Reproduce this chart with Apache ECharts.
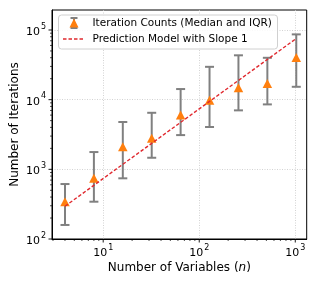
<!DOCTYPE html>
<html>
<head>
<meta charset="utf-8">
<script src="https://cdn.jsdelivr.net/npm/echarts@6/dist/echarts.min.js"></script>
<style>
html,body{margin:0;padding:0;background:#fff;}
#chart{width:317px;height:286px;}
</style>
</head>
<body>
<div id="chart"></div>
<script>
// ---- data ----
var nValues   = [4, 8, 16, 32, 64, 128, 256, 512, 1024];
var medians   = [343, 743, 2110, 2790, 6010, 9800, 14800, 17100, 40400];
var q1Values  = [159, 343, 743, 1466, 3100, 4050, 7020, 8550, 15300];
var q3Values  = [615, 1770, 4775, 6480, 14200, 29600, 43300, 39900, 86500];
var predN     = [4, 1024];
var predIters = [295, 75500];
var xMajorTicks = [10, 100, 1000];
var yMajorTicks = [100, 1000, 10000, 100000];
var seriesNames = ['Iteration Counts (Median and IQR)', 'Prediction Model with Slope 1'];
var xLabel = 'Number of Variables ';
var yLabel = 'Number of Iterations';

var X_MIN = 2.93, X_MAX = 1315, Y_MIN = 100, Y_MAX = 193600;
var FONT = 'DejaVu Sans';

function minorList(lo, hi) {
  var out = [];
  for (var d = 1; d <= 1e6; d *= 10) {
    for (var k = 2; k <= 9; k++) {
      var v = k * d;
      if (v > lo && v < hi) out.push(v);
    }
  }
  return out;
}

var tickData = [];
xMajorTicks.forEach(function (v) { tickData.push([v, Y_MIN, 0, 1]); });
minorList(X_MIN, X_MAX).forEach(function (v) { tickData.push([v, Y_MIN, 0, 0]); });
yMajorTicks.forEach(function (v) { tickData.push([X_MIN, v, 1, 1]); });
minorList(Y_MIN, Y_MAX).forEach(function (v) { tickData.push([X_MIN, v, 1, 0]); });

var errData = nValues.map(function (n, i) { return [n, q1Values[i], q3Values[i]]; });
var medData = nValues.map(function (n, i) { return [n, medians[i]]; });
var predData = predN.map(function (n, i) { return [n, predIters[i]]; });

function powLabel(v) {
  var e = Math.round(Math.log(v) / Math.LN10);
  return '{b|10}{s|' + e + '}';
}
var richLabel = {
  b: { fontFamily: FONT, fontSize: 11, color: '#000', verticalAlign: 'bottom', lineHeight: 15 },
  s: { fontFamily: FONT, fontSize: 8, color: '#000', verticalAlign: 'top', lineHeight: 15, padding: [0, 0, 0, 1] }
};

var chart = echarts.init(document.getElementById('chart'), null, { renderer: 'canvas' });
var option = {
  animation: false,
  backgroundColor: '#fff',
  grid: {
    left: 52, right: 10.3, top: 10, bottom: 47,
    show: true, borderColor: '#000', borderWidth: 1, backgroundColor: 'transparent',
    containLabel: false, outerBoundsMode: 'none'
  },
  xAxis: {
    type: 'log', logBase: 10, min: X_MIN, max: X_MAX,
    name: xLabel + '({i|n})',
    nameLocation: 'middle', nameGap: 23, nameMoveOverlap: false,
    nameTextStyle: {
      fontFamily: FONT, fontSize: 12, color: '#000',
      rich: { i: { fontFamily: FONT, fontSize: 12, fontStyle: 'italic', color: '#000' } }
    },
    axisLine: { show: true, lineStyle: { color: '#000', width: 1 } },
    axisTick: { show: false },
    axisLabel: { formatter: powLabel, rich: richLabel, margin: 5, showMinLabel: false, showMaxLabel: false },
    splitLine: { show: true, showMinLine: false, showMaxLine: false, lineStyle: { color: '#c8c8c8', type: [1, 1.5], width: 0.8 } },
    minorTick: { show: false }
  },
  yAxis: {
    type: 'log', logBase: 10, min: Y_MIN, max: Y_MAX,
    name: yLabel,
    nameLocation: 'middle', nameGap: 31, nameMoveOverlap: false,
    nameTextStyle: { fontFamily: FONT, fontSize: 12, color: '#000' },
    axisLine: { show: true, lineStyle: { color: '#000', width: 1 } },
    axisTick: { show: false },
    axisLabel: { formatter: powLabel, rich: richLabel, margin: 6, showMinLabel: true, showMaxLabel: false },
    splitLine: { show: true, showMinLine: false, showMaxLine: false, lineStyle: { color: '#c8c8c8', type: [1, 1.5], width: 0.8 } }
  },
  series: [
    {
      type: 'custom', name: 'ticks', silent: true, z: 5, clip: false,
      data: tickData,
      renderItem: function (params, api) {
        var p = api.coord([api.value(0), api.value(1)]);
        var len = api.value(3) ? 3.5 : 2;
        var shape = api.value(2) === 0
          ? { x1: p[0], y1: p[1], x2: p[0], y2: p[1] + len }
          : { x1: p[0], y1: p[1], x2: p[0] - len, y2: p[1] };
        return { type: 'line', shape: shape, style: { stroke: '#000', lineWidth: api.value(3) ? 0.9 : 0.7 } };
      }
    },
    {
      type: 'custom', name: 'iqr', silent: true, z: 3,
      data: errData,
      renderItem: function (params, api) {
        var lo = api.coord([api.value(0), api.value(1)]);
        var hi = api.coord([api.value(0), api.value(2)]);
        var hw = 4.5;
        var st = { stroke: '#808080', lineWidth: 2 };
        return {
          type: 'group',
          children: [
            { type: 'line', shape: { x1: lo[0], y1: lo[1], x2: hi[0], y2: hi[1] }, style: st },
            { type: 'line', shape: { x1: lo[0] - hw, y1: lo[1], x2: lo[0] + hw, y2: lo[1] }, style: st },
            { type: 'line', shape: { x1: hi[0] - hw, y1: hi[1], x2: hi[0] + hw, y2: hi[1] }, style: st }
          ]
        };
      }
    },
    {
      type: 'scatter', name: seriesNames[0], z: 4,
      data: medData, symbol: 'triangle', symbolSize: [9.5, 9],
      itemStyle: { color: '#ff7f0e', opacity: 1 }
    },
    {
      type: 'line', name: seriesNames[1], z: 6,
      data: predData, symbol: 'none',
      lineStyle: { color: '#e0282e', width: 1.4, type: [3.5, 2] }
    }
  ],
  graphic: [
    {
      type: 'rect', z: 100,
      shape: { x: 58.5, y: 15, width: 219, height: 34, r: 3 },
      style: { fill: 'rgba(255,255,255,0.85)', stroke: '#d0d0d0', lineWidth: 1 }
    },
    { type: 'line', z: 101, shape: { x1: 74, y1: 18, x2: 74, y2: 28 }, style: { stroke: '#808080', lineWidth: 2 } },
    { type: 'line', z: 101, shape: { x1: 70.5, y1: 18, x2: 77.5, y2: 18 }, style: { stroke: '#808080', lineWidth: 2 } },
    { type: 'line', z: 101, shape: { x1: 70.5, y1: 28, x2: 77.5, y2: 28 }, style: { stroke: '#808080', lineWidth: 2 } },
    { type: 'polygon', z: 102, shape: { points: [[74, 18.5], [69.5, 27.5], [78.5, 27.5]] }, style: { fill: '#ff7f0e' } },
    { type: 'text', z: 101, x: 92.5, y: 23, style: { text: seriesNames[0], fontFamily: FONT, fontSize: 10.5, fill: '#000', verticalAlign: 'middle' } },
    { type: 'line', z: 101, shape: { x1: 63, y1: 39, x2: 83, y2: 39 }, style: { stroke: '#e0282e', lineWidth: 1.4, lineDash: [3.5, 2] } },
    { type: 'text', z: 101, x: 92.5, y: 39, style: { text: seriesNames[1], fontFamily: FONT, fontSize: 10.5, fill: '#000', verticalAlign: 'middle' } }
  ]
};
chart.setOption(option);
</script>
</body>
</html>
